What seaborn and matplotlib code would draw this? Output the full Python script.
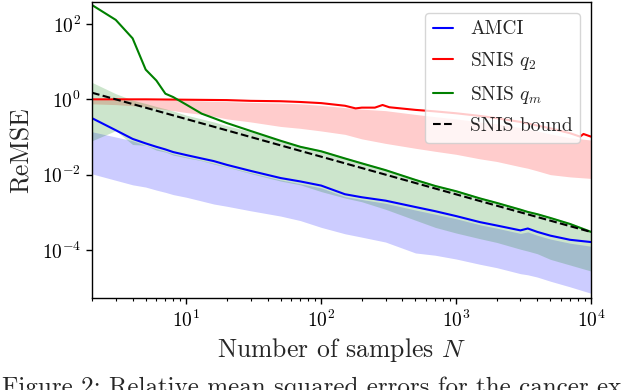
import numpy as np
import pandas as pd
import matplotlib
matplotlib.use("Agg")
import matplotlib.pyplot as plt
import seaborn as sns
from matplotlib.ticker import FixedLocator, NullLocator, LogLocator, NullFormatter

# ---- data (stored as log10 of ReMSE) ----
N = [2, 3, 4, 5, 6, 7, 8, 10, 13, 16, 20, 30, 50, 70, 100, 150, 200, 300,
     500, 700, 1000, 1500, 2000, 3000, 3400, 4000, 5000, 7000, 10000]

amci_log10 = [-0.50, -0.82, -1.05, -1.17, -1.26, -1.33, -1.40, -1.48, -1.57, -1.64,
              -1.74, -1.90, -2.09, -2.18, -2.29, -2.52, -2.60, -2.69, -2.86, -2.97,
              -3.10, -3.26, -3.35, -3.48, -3.43, -3.52, -3.62, -3.73, -3.79]
amci_hi_log10 = [-0.86, -1.00, -1.10, -1.22, -1.31, -1.38, -1.45, -1.53, -1.62, -1.70,
                 -1.79, -1.95, -2.14, -2.24, -2.35, -2.58, -2.66, -2.76, -2.94, -3.05,
                 -3.17, -3.33, -3.42, -3.56, -3.52, -3.61, -3.71, -3.82, -3.90]
amci_lo_log10 = [-1.98, -2.15, -2.27, -2.33, -2.41, -2.47, -2.53, -2.60, -2.70, -2.78,
                 -2.84, -2.96, -3.10, -3.22, -3.40, -3.57, -3.66, -3.79, -4.08, -4.14,
                 -4.24, -4.38, -4.47, -4.63, -4.66, -4.72, -4.83, -4.98, -5.15]

qm_log10 = [2.505, 2.11, 1.62, 0.79, 0.50, 0.15, 0.06, -0.14, -0.38, -0.50,
            -0.63, -0.84, -1.10, -1.26, -1.38, -1.57, -1.70, -1.88, -2.14, -2.30,
            -2.44, -2.63, -2.75, -2.93, -2.99, -3.05, -3.15, -3.31, -3.52]
qm_hi_log10 = [0.45, 0.15, -0.02, -0.11, -0.19, -0.25, -0.31, -0.42, -0.52, -0.60,
               -0.70, -0.86, -1.08, -1.23, -1.35, -1.54, -1.67, -1.85, -2.11, -2.27,
               -2.41, -2.60, -2.72, -2.90, -2.96, -3.02, -3.12, -3.28, -3.48]
qm_lo_log10 = [-1.10, -0.83, -1.20, -1.22, -1.35, -1.40, -1.48, -1.55, -1.63, -1.72,
               -1.80, -1.97, -2.17, -2.27, -2.45, -2.62, -2.72, -2.92, -3.21, -3.40,
               -3.55, -3.70, -3.80, -3.98, -4.03, -4.10, -4.25, -4.40, -4.56]

q2_hi_log10 = [-0.02, -0.02, -0.02, -0.02, -0.02, -0.02, -0.03, -0.03, -0.04, -0.05,
               -0.06, -0.08, -0.10, -0.12, -0.16, -0.22, -0.26, -0.30, -0.40, -0.46,
               -0.52, -0.60, -0.65, -0.75, -0.79, -0.84, -0.92, -1.02, -1.08]
q2_lo_log10 = [-0.12, -0.14, -0.17, -0.20, -0.24, -0.27, -0.30, -0.35, -0.40, -0.45,
               -0.52, -0.60, -0.72, -0.77, -0.84, -0.93, -1.05, -1.17, -1.30, -1.38,
               -1.46, -1.58, -1.65, -1.79, -1.83, -1.90, -2.00, -2.06, -2.10]

q2_N = [2, 5, 10, 20, 30, 50, 70, 100, 150, 180, 200, 250, 285, 320, 500, 700,
        1000, 1500, 2000, 3000, 5000, 7000, 8300, 8800, 10000]
q2_log10 = [0.0, 0.0, -0.01, -0.02, -0.04, -0.05, -0.07, -0.10, -0.17, -0.24, -0.22,
            -0.22, -0.15, -0.21, -0.28, -0.32, -0.37, -0.44, -0.50, -0.60, -0.77,
            -0.90, -0.99, -0.92, -0.99]

bound_N = [2, 10000]
bound_vals = [1.5, 3.0e-4]

x_ticks = [10, 100, 1000, 10000]
y_ticks = [1e-4, 1e-2, 1e0, 1e2]

# ---- style ----
sns.set_style("ticks")
plt.rcParams.update({
    "font.family": "serif",
    "font.serif": ["cmr10"],
    "mathtext.fontset": "cm",
    "axes.formatter.use_mathtext": True,
    "axes.unicode_minus": False,
    "axes.edgecolor": "black",
    "axes.linewidth": 1.0,
    "xtick.color": "black",
    "ytick.color": "black",
    "xtick.direction": "out",
    "ytick.direction": "out",
})

fig = plt.figure(figsize=(6.38, 3.90), dpi=100)
ax = fig.add_axes([0.1442, 0.2359, 0.7821, 0.759])

p = lambda a: np.power(10.0, np.asarray(a))

ax.fill_between(N, p(amci_lo_log10), p(amci_hi_log10), color="blue", alpha=0.2, linewidth=0)
ax.fill_between(N, p(q2_lo_log10), p(q2_hi_log10), color="red", alpha=0.2, linewidth=0)
ax.fill_between(N, p(qm_lo_log10), p(qm_hi_log10), color="green", alpha=0.2, linewidth=0)

df_amci = pd.DataFrame({"N": N, "ReMSE": p(amci_log10)})
df_q2 = pd.DataFrame({"N": q2_N, "ReMSE": p(q2_log10)})
df_qm = pd.DataFrame({"N": N, "ReMSE": p(qm_log10)})
df_b = pd.DataFrame({"N": bound_N, "ReMSE": bound_vals})

sns.lineplot(data=df_amci, x="N", y="ReMSE", color="blue", lw=1.5, label="AMCI", ax=ax)
sns.lineplot(data=df_q2, x="N", y="ReMSE", color="red", lw=1.5, label="SNIS $q_2$", ax=ax)
sns.lineplot(data=df_qm, x="N", y="ReMSE", color="green", lw=1.5, label="SNIS $q_m$", ax=ax)
sns.lineplot(data=df_b, x="N", y="ReMSE", color="black", lw=1.5, ls="--", label="SNIS bound", ax=ax)

ax.set_xscale("log")
ax.set_yscale("log")
ax.set_xlim(2, 10000)
ax.set_ylim(5.3e-6, 385)

ax.xaxis.set_major_locator(FixedLocator(x_ticks))
ax.xaxis.set_minor_locator(LogLocator(base=10, subs=np.arange(2, 10)))
ax.xaxis.set_minor_formatter(NullFormatter())
ax.yaxis.set_major_locator(FixedLocator(y_ticks))
ax.yaxis.set_minor_locator(NullLocator())
ax.tick_params(axis="both", which="major", labelsize=14, length=4.5, width=1.0)
ax.tick_params(axis="both", which="minor", length=2.5, width=0.8)
for s in ax.spines.values():
    s.set_visible(True)
    s.set_color("black")

ax.set_xlabel("Number of samples $N$", fontsize=18.5, labelpad=4)
ax.set_ylabel("ReMSE", fontsize=18.5, labelpad=6)

leg = ax.legend(loc="upper right", fontsize=14, frameon=True, framealpha=0.8,
                fancybox=True, borderaxespad=0.55, handlelength=1.05,
                handletextpad=0.85, labelspacing=0.6)
leg.get_frame().set_edgecolor("#cccccc")

fig.text(0.003, -0.0103, "Figure 2: Relative mean squared errors for the cancer ex",
         fontsize=18, va="baseline", ha="left")

fig.savefig("out.png", dpi=100)
